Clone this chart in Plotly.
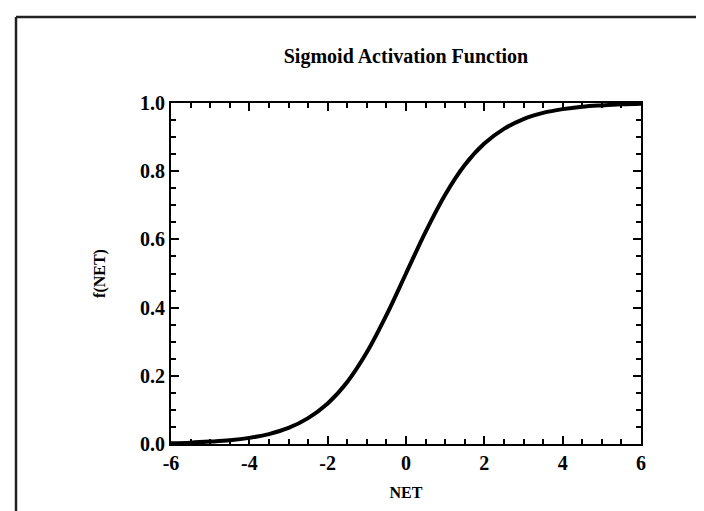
import plotly.graph_objects as go

# Values
net = [-6, -5.5, -5, -4.5, -4, -3.5, -3, -2.5, -2, -1.5, -1, -0.5, 0,
       0.5, 1, 1.5, 2, 2.5, 3, 3.5, 4, 4.5, 5, 5.5, 6]
f_net = [0.0025, 0.004, 0.007, 0.011, 0.018, 0.029, 0.047, 0.076, 0.119, 0.182,
         0.269, 0.378, 0.50, 0.622, 0.731, 0.818, 0.881, 0.924, 0.953, 0.971, 0.982,
         0.989, 0.993, 0.996, 0.9975]

x_tick_vals = [-6, -4, -2, 0, 2, 4, 6]
x_tick_text = ["-6", "-4", "-2", "0", "2", "4", "6"]
y_tick_vals = [0.0, 0.2, 0.4, 0.6, 0.8, 1.0]
y_tick_text = ["0.0", "0.2", "0.4", "0.6", "0.8", "1.0"]

FONT = "Liberation Serif"
W, H = 704, 511
ML, MR, MT, MB = 163, 71, 95, 75
PW, PH = W - ML - MR, H - MT - MB

fig = go.Figure()
fig.add_trace(go.Scatter(
    x=net, y=f_net, mode="lines",
    line=dict(color="black", width=4, shape="spline"),
    showlegend=False, hoverinfo="skip",
))

axis_common = dict(
    showline=True, linecolor="black", linewidth=2,
    ticks="inside", ticklen=8, tickwidth=2, tickcolor="black",
    mirror="ticks", showgrid=False, zeroline=False,
    tickfont=dict(family=FONT, size=20, color="black", weight="bold"),
)

fig.update_xaxes(
    range=[-6, 6], tickmode="array", tickvals=x_tick_vals, ticktext=x_tick_text,
    minor=dict(dtick=0.5, ticks="inside", ticklen=5, tickwidth=1.5, tickcolor="black", showgrid=False),
    title=dict(text="NET", font=dict(family=FONT, size=16, color="black", weight="bold"), standoff=14),
    **axis_common,
)
fig.update_yaxes(
    range=[0, 1], tickmode="array", tickvals=y_tick_vals, ticktext=y_tick_text,
    minor=dict(dtick=0.05, ticks="inside", ticklen=5, tickwidth=1.5, tickcolor="black", showgrid=False),
    title=dict(text="f(NET)", font=dict(family=FONT, size=16, color="black", weight="bold"), standoff=30),
    **axis_common,
)

def px_x(p):
    return (p - ML) / PW

def px_y(p):
    return (H - MB - p) / PH

frame = dict(color="#222222", width=2.5)
fig.add_shape(type="line", xref="paper", yref="paper",
              x0=px_x(8), x1=px_x(W + 5), y0=px_y(9), y1=px_y(9), line=frame)
fig.add_shape(type="line", xref="paper", yref="paper",
              x0=px_x(8), x1=px_x(8), y0=px_y(9), y1=px_y(H + 5), line=frame)

fig.update_layout(
    width=W, height=H,
    margin=dict(l=ML, r=MR, t=MT, b=MB),
    paper_bgcolor="white", plot_bgcolor="white",
    title=dict(text="Sigmoid Activation Function", x=(ML + PW / 2) / W, xanchor="center",
               y=1 - 48 / H, yanchor="middle", yref="container",
               font=dict(family=FONT, size=20, color="black", weight="bold")),
)

fig.write_html("out.html")
